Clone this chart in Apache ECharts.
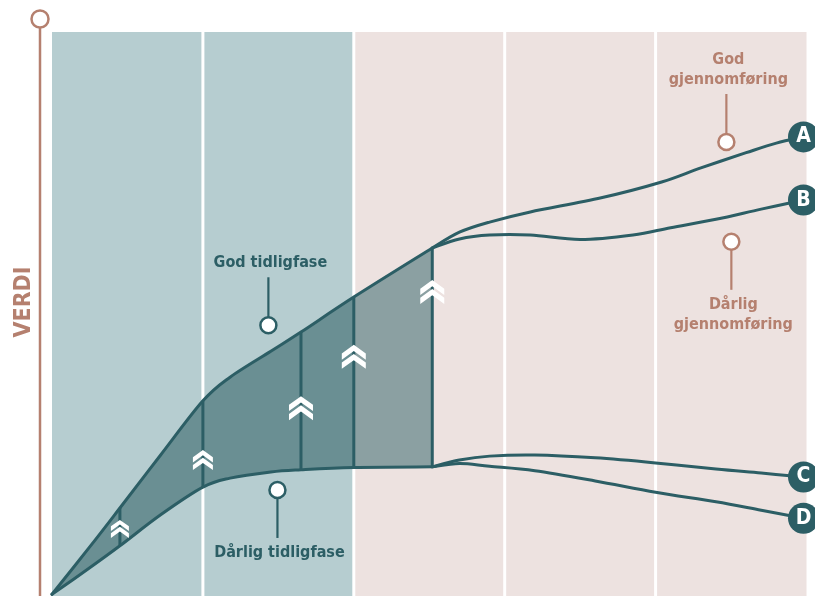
<!DOCTYPE html>
<html>
<head>
<meta charset="utf-8">
<title>Verdi over tid</title>
<script src="https://cdn.jsdelivr.net/npm/echarts@6/dist/echarts.min.js"></script>
<style>
  html, body { margin: 0; padding: 0; background: #ffffff; }
  #chart { width: 815px; height: 596px; }
</style>
</head>
<body>
<div id="chart"></div>
<script>
// ---- Timeline columns (x in phase units) ----
const phaseSpans = [[0, 1], [1, 2], [2, 3], [3, 4], [4, 5]];
const phaseKinds = ['tidligfase', 'tidligfase', 'gjennomføring', 'gjennomføring', 'gjennomføring'];

// ---- Early phase envelope: good and poor early phase share the same x ----
const earlyX    = [0, 0.25, 0.45, 0.72, 1.0, 1.18, 1.45, 1.65, 2.0, 2.52];
const earlyGood = [0.3, 8.7, 15.6, 25.0, 34.6, 38.8, 43.4, 46.8, 53.0, 61.7];
const earlyPoor = [0.3, 5.0, 8.9, 14.4, 19.3, 20.9, 22.0, 22.4, 22.8, 22.9];

// ---- Steps inside the envelope and their chevrons ----
const stepX    = [0.45, 1.0, 1.65, 2.0, 2.52];
const chevronY = [11.9, 24.1, 33.3, 42.4, 53.9];

// ---- Outcomes after the early phase ----
const outcomeNames = ['A', 'B', 'C', 'D'];
const outAX = [2.52, 2.7, 2.9, 3.17, 3.64, 4.04, 4.3, 4.6, 4.8, 4.98];
const outAY = [61.7, 64.5, 66.3, 68.1, 70.6, 73.4, 75.9, 78.6, 80.3, 81.4];
const outBX = [2.52, 2.7, 2.9, 3.17, 3.5, 3.85, 4.1, 4.4, 4.7, 4.98];
const outBY = [61.7, 63.3, 64.0, 64.0, 63.2, 64.0, 65.3, 66.8, 68.6, 70.2];
const outCX = [2.52, 2.7, 2.9, 3.2, 3.6, 4.0, 4.4, 4.7, 4.98];
const outCY = [22.9, 24.1, 24.8, 25.0, 24.5, 23.6, 22.5, 21.8, 21.1];
const outDX = [2.52, 2.7, 2.9, 3.2, 3.6, 4.0, 4.4, 4.7, 4.98];
const outDY = [22.9, 23.5, 23.0, 22.2, 20.4, 18.4, 16.7, 15.2, 13.8];

// ---- Callouts: pin position (data units), text ----
const noteText  = [['God tidligfase'], ['Dårlig tidligfase'], ['God', 'gjennomføring'], ['Dårlig', 'gjennomføring']];
const notePin   = [[1.434, 48.0], [1.494, 18.8], [4.469, 80.5], [4.502, 62.8]];
const noteDir   = ['up', 'down', 'up', 'down'];
const noteKind  = ['tidligfase', 'tidligfase', 'gjennomføring', 'gjennomføring'];
const axisTitle = 'VERDI';

// ---- Styling ----
const FONT = '"DejaVu Sans Condensed", "Liberation Sans Narrow", "Roboto Condensed", Roboto, sans-serif';
const TEAL = '#2c5e65';
const ROSE = '#b5806f';
const PANEL = { 'tidligfase': '#b6cdd0', 'gjennomføring': '#ede2e0' };
const INK   = { 'tidligfase': TEAL, 'gjennomføring': ROSE };
const BAND_DARK = '#6a8f93';
const BAND_GREY = '#8ba0a2';
const chevronSize = [18, 20, 24, 24, 24];
const CHEVRON = 'path://M0,36L50,0L100,36L100,62L50,26L0,62Z M0,74L50,38L100,74L100,100L50,64L0,100Z';

const curves = [
  [earlyX, earlyGood], [earlyX, earlyPoor],
  [outAX, outAY], [outBX, outBY], [outCX, outCY], [outDX, outDY]
];

// Catmull-Rom spline through pixel points, as SVG path data
function spline(pts, move) {
  let d = (move ? 'M' : 'L') + pts[0][0] + ',' + pts[0][1];
  for (let i = 0; i < pts.length - 1; i++) {
    const p0 = pts[i - 1] || pts[i], p1 = pts[i], p2 = pts[i + 1], p3 = pts[i + 2] || pts[i + 1];
    const c1 = [p1[0] + (p2[0] - p0[0]) / 6, p1[1] + (p2[1] - p0[1]) / 6];
    const c2 = [p2[0] - (p3[0] - p1[0]) / 6, p2[1] - (p3[1] - p1[1]) / 6];
    d += 'C' + c1[0] + ',' + c1[1] + ' ' + c2[0] + ',' + c2[1] + ' ' + p2[0] + ',' + p2[1];
  }
  return d;
}
function toPixels(api, xs, ys) {
  return xs.map((x, i) => api.coord([x, ys[i]]));
}

const chart = echarts.init(document.getElementById('chart'), null, { renderer: 'canvas' });

const option = {
  animation: false,
  backgroundColor: '#ffffff',
  grid: { left: 52, right: 8.5, top: 32, bottom: 0 },
  xAxis: { type: 'value', min: 0, max: 5, show: false },
  yAxis: { type: 'value', min: 0, max: 100, show: false },
  graphic: [
    { type: 'line', z: 10, shape: { x1: 40, y1: 28, x2: 40, y2: 596 },
      style: { stroke: ROSE, lineWidth: 2.5 } },
    { type: 'circle', z: 10, shape: { cx: 40, cy: 19, r: 8.5 },
      style: { fill: '#ffffff', stroke: ROSE, lineWidth: 2.5 } },
    { type: 'text', z: 10, x: 24, y: 302, rotation: Math.PI / 2,
      style: { text: axisTitle, fill: ROSE, font: 'bold 23px ' + FONT,
               align: 'center', verticalAlign: 'middle' } }
  ],
  series: [
    // column panels
    {
      type: 'custom', z: 1,
      data: phaseSpans.map((s, i) => i),
      renderItem: function (params, api) {
        const i = api.value(0);
        const cs = params.coordSys;
        const span = phaseSpans[i];
        let x0 = api.coord([span[0], 0])[0];
        let x1 = api.coord([span[1], 0])[0];
        if (i > 0) x0 += 1.5;
        if (i < phaseSpans.length - 1) x1 -= 1.5;
        return {
          type: 'rect',
          shape: { x: x0, y: cs.y, width: x1 - x0, height: cs.height },
          style: { fill: PANEL[phaseKinds[i]] }
        };
      }
    },
    // envelope between good and poor early phase
    {
      type: 'custom', z: 2,
      data: [0],
      renderItem: function (params, api) {
        const top = toPixels(api, earlyX, earlyGood);
        const bot = toPixels(api, earlyX, earlyPoor).reverse();
        const d = spline(top, true) + spline(bot, false) + 'Z';
        const xa = api.coord([earlyX[0], 0])[0];
        const xb = api.coord([earlyX[earlyX.length - 1], 0])[0];
        const xs = api.coord([phaseSpans[1][1], 0])[0];
        const t = (xs - xa) / (xb - xa);
        return {
          type: 'path',
          shape: { pathData: d },
          style: {
            fill: new echarts.graphic.LinearGradient(xa, 0, xb, 0, [
              { offset: 0, color: BAND_DARK }, { offset: t, color: BAND_DARK },
              { offset: t, color: BAND_GREY }, { offset: 1, color: BAND_GREY }
            ], true),
            stroke: null
          }
        };
      }
    },
    // step dividers
    {
      type: 'custom', z: 3,
      data: stepX.map((x, i) => i),
      renderItem: function (params, api) {
        const x = stepX[api.value(0)];
        const k = earlyX.indexOf(x);
        const p = api.coord([x, earlyPoor[k]]);
        const q = api.coord([x, earlyGood[k]]);
        return {
          type: 'line',
          shape: { x1: p[0], y1: p[1], x2: q[0], y2: q[1] },
          style: { stroke: TEAL, lineWidth: 3 }
        };
      }
    },
    // value curves
    {
      type: 'custom', z: 4,
      data: curves.map((c, i) => i),
      renderItem: function (params, api) {
        const c = curves[api.value(0)];
        return {
          type: 'path',
          shape: { pathData: spline(toPixels(api, c[0], c[1]), true) },
          style: { fill: null, stroke: TEAL, lineWidth: 3, lineCap: 'round', lineJoin: 'round' }
        };
      }
    },
    // chevrons
    {
      type: 'scatter', z: 5,
      symbol: CHEVRON,
      symbolSize: function (v, p) { return chevronSize[p.dataIndex]; },
      itemStyle: { color: '#ffffff', opacity: 1 },
      silent: true,
      data: stepX.map((x, i) => [x, chevronY[i]])
    },
    // outcome markers
    {
      type: 'scatter', z: 6,
      symbol: 'circle', symbolSize: 31,
      itemStyle: { color: TEAL, opacity: 1 },
      label: {
        show: true, position: 'inside',
        formatter: function (p) { return outcomeNames[p.dataIndex]; },
        color: '#ffffff', fontFamily: FONT, fontWeight: 'bold', fontSize: 21
      },
      data: [curves[2], curves[3], curves[4], curves[5]].map(c => [c[0][c[0].length - 1], c[1][c[1].length - 1]])
    },
    // callouts
    {
      type: 'custom', z: 7,
      data: noteText.map((t, i) => i),
      renderItem: function (params, api) {
        const i = api.value(0);
        const p = api.coord(notePin[i]);
        const ink = INK[noteKind[i]];
        const r = 8;
        const stem = 40;
        const up = noteDir[i] === 'up';
        const s0 = up ? p[1] - r : p[1] + r;
        const s1 = up ? s0 - stem : s0 + stem;
        return {
          type: 'group',
          children: [
            { type: 'line', shape: { x1: p[0], y1: s0, x2: p[0], y2: s1 },
              style: { stroke: ink, lineWidth: 2.2 } },
            { type: 'circle', shape: { cx: p[0], cy: p[1], r: r },
              style: { fill: '#ffffff', stroke: ink, lineWidth: 2.5 } },
            { type: 'text',
              style: {
                x: p[0] + 2, y: up ? s1 - 4 : s1 + 5,
                text: noteText[i].join('\n'),
                fill: ink, font: 'bold 16px ' + FONT,
                lineHeight: 20, align: 'center',
                verticalAlign: up ? 'bottom' : 'top'
              } }
          ]
        };
      }
    }
  ]
};

chart.setOption(option);
</script>
</body>
</html>
